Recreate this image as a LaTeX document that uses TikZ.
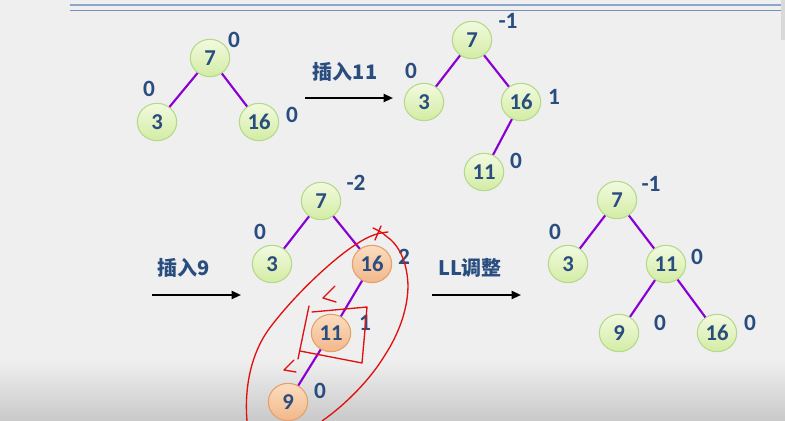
\documentclass[tikz,border=0pt]{standalone}
\usepackage{fontspec}
\setmainfont{Carlito}
\newfontfamily\cjk{Noto Sans CJK SC}
\usetikzlibrary{arrows.meta,shapes.geometric}
\definecolor{bgc}{HTML}{EFEFEF}
\definecolor{bgd}{HTML}{C9C9C9}
\definecolor{txt}{HTML}{2A4D80}
\definecolor{edgec}{HTML}{8A00D4}
\definecolor{gfillA}{HTML}{F2FADF}
\definecolor{gfillB}{HTML}{D3ECA4}
\definecolor{gline}{HTML}{B3D98A}
\definecolor{ofillA}{HTML}{FBDCC0}
\definecolor{ofillB}{HTML}{F2B88A}
\definecolor{oline}{HTML}{E3A06C}
\definecolor{topA}{HTML}{8DA7CA}
\definecolor{topB}{HTML}{7890B5}
\definecolor{redink}{HTML}{E01010}
\tikzset{
  gnode/.style={ellipse,draw=gline,line width=0.8pt,top color=gfillA,bottom color=gfillB,
     minimum width=29.5pt,minimum height=28pt,inner sep=0pt,text=txt,font=\bfseries\fontsize{17}{17}\selectfont},
  onode/.style={gnode,draw=oline,top color=ofillA,bottom color=ofillB},
  bal/.style={text=txt,font=\bfseries\fontsize{17.5}{17.5}\selectfont,inner sep=0pt},
  lbl/.style={text=txt,font=\cjk\bfseries\fontsize{15}{15}\selectfont,inner sep=0pt},
  tedge/.style={edgec,line width=1.6pt},
  bigarrow/.style={black,line width=1.5pt,-{Triangle[length=7pt,width=6pt]}},
  red/.style={redink,line width=1pt,line cap=round,line join=round}
}
\begin{document}
\begin{tikzpicture}[x=0.75pt,y=-0.75pt]
\useasboundingbox (0,0) rectangle (785,421);
\fill[bgc] (0,0) rectangle (785,421);
\shade[top color=bgc,bottom color=bgd] (0,360) rectangle (785,421);
\draw[topA,line width=1.8pt] (70,5) -- (781,5);
\draw[topB,line width=0.8pt] (70,10.5) -- (781,10.5);
\fill[black!15] (781,0) rectangle (785,40);

% Tree 1
\node[gnode] (a7) at (210,58) {7};
\node[gnode] (a3) at (157,122) {3};
\node[gnode] (a16) at (259,122) {16};
\draw[tedge] (a7) -- (a3);
\draw[tedge] (a7) -- (a16);
\node[bal] (ba7) at (234,40) {0};
\node[bal] (ba3) at (149,89) {0};
\node[bal] (ba16) at (292,115) {0};

% Arrow 1
\coordinate (s1) at (305,98);
\coordinate (e1) at (393,98);
\draw[bigarrow] (s1) -- (e1);
\node[lbl] (l1) at (345,72) {插入11};

% Tree 2
\node[gnode] (b7) at (472,40) {7};
\node[gnode] (b3) at (424,102) {3};
\node[gnode] (b16) at (521,102) {16};
\node[gnode] (b11) at (484,172) {11};
\draw[tedge] (b7) -- (b3);
\draw[tedge] (b7) -- (b16);
\draw[tedge] (b16) -- (b11);
\node[bal] (bb7) at (508,21) {-1};
\node[bal] (bb3) at (411,71) {0};
\node[bal] (bb16) at (554,97) {1};
\node[bal] (bb11) at (516,161) {0};

% Arrow 2
\coordinate (s2) at (152,295);
\coordinate (e2) at (241,295);
\draw[bigarrow] (s2) -- (e2);
\node[lbl] (l2) at (184,268) {插入9};

% Tree 3
\node[gnode] (c7) at (321,201) {7};
\node[gnode] (c3) at (272,264) {3};
\node[onode] (c16) at (372,264) {16};
\node[onode] (c11) at (331,333) {11};
\node[onode] (c9) at (288,402) {9};
\draw[tedge] (c7) -- (c3);
\draw[tedge] (c7) -- (c16);
\draw[tedge] (c16) -- (c11);
\draw[tedge] (c11) -- (c9);
\node[bal] (bc7) at (356,183) {-2};
\node[bal] (bc3) at (260,232) {0};
\node[bal] (bc16) at (404,257) {2};
\node[bal] (bc11) at (365,323) {1};
\node[bal] (bc9) at (320,391) {0};

% Arrow 3
\coordinate (s3) at (432,295);
\coordinate (e3) at (521,295);
\draw[bigarrow] (s3) -- (e3);
\node[lbl] (l3) at (470,268) {LL调整};

% Tree 4
\node[gnode] (d7) at (617,200) {7};
\node[gnode] (d3) at (568,264) {3};
\node[gnode] (d11) at (666,264) {11};
\node[gnode] (d9) at (619,333) {9};
\node[gnode] (d16) at (717,333) {16};
\draw[tedge] (d7) -- (d3);
\draw[tedge] (d7) -- (d11);
\draw[tedge] (d11) -- (d9);
\draw[tedge] (d11) -- (d16);
\node[bal] (bd7) at (651,184) {-1};
\node[bal] (bd3) at (555,232) {0};
\node[bal] (bd11) at (697,257) {0};
\node[bal] (bd9) at (660,323) {0};
\node[bal] (bd16) at (750,323) {0};

% Red handwriting
\draw[red] (247,421) .. controls (244,385) and (252,350) .. (272,325)
  .. controls (295,295) and (330,262) .. (352,247)
  .. controls (365,238) and (375,233) .. (388,232);
\draw[red] (373,228) .. controls (380,231) and (384,234) .. (386,236)
  .. controls (398,244) and (407,260) .. (408,285)
  .. controls (408,310) and (398,335) .. (385,355)
  .. controls (370,380) and (345,405) .. (322,421);
\draw[red] (381,226) -- (375,240);
\draw[red] (312,312) -- (367,307) -- (362,363) -- (300,351);
\draw[red] (309,306) -- (304,330) -- (298,359);
\draw[red] (335,286) -- (323,298) -- (336,302);
\draw[red] (294,360) -- (284,370) -- (296,372);
\end{tikzpicture}
\end{document}
